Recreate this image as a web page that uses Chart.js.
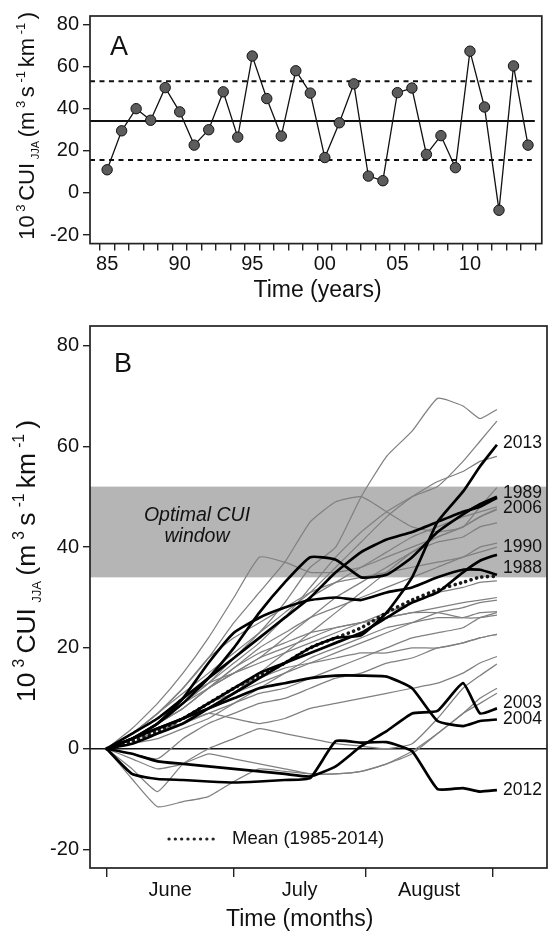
<!DOCTYPE html>
<html>
<head>
<meta charset="utf-8">
<script src="https://cdn.jsdelivr.net/npm/chart.js@4.4.0/dist/chart.umd.min.js"></script>
<style>
  html, body { margin: 0; padding: 0; background: #fff; }
  canvas { display: block; }
</style>
</head>
<body>
<canvas id="chartA" width="548" height="310"></canvas>
<canvas id="chartB" width="548" height="622"></canvas>
<script>
// ---- Panel A: summer CUI totals per year ----
const years = [1985, 1986, 1987, 1988, 1989, 1990, 1991, 1992, 1993, 1994,
               1995, 1996, 1997, 1998, 1999, 2000, 2001, 2002, 2003, 2004,
               2005, 2006, 2007, 2008, 2009, 2010, 2011, 2012, 2013, 2014];
const cuiTotals = [11, 29.5, 40, 34.5, 50, 38.5, 22.7, 30, 48, 26.5,
                   65, 44.8, 27, 58, 47.4, 16.8, 33.3, 51.8, 8, 5.8,
                   47.6, 49.8, 18.3, 27.2, 12, 67.3, 40.8, -8.2, 60.3, 22.7];
const cuiMean = 34.2;
const cuiUpper = 53;
const cuiLower = 15.6;
const yearLabelValues = [1985, 1990, 1995, 2000, 2005, 2010];
const yearTickLabels = ['85', '90', '95', '00', '05', '10'];
const cuiTicks = [-20, 0, 20, 40, 60, 80];

// ---- Panel B: cumulative CUI through the summer ----
const days = [0, 6, 12, 18, 24, 30, 36, 42, 48, 54, 60, 66, 72, 78, 84, 88, 92];
const monthTicks = [0, 30, 61, 91];
const monthLabelDays = [15, 45.5, 76];
const monthNames = ['June', 'July', 'August'];
const windowLow = 34;
const windowHigh = 52;

const cumMean = [0, 1.5, 3.5, 6, 9, 12, 14.5, 17, 20, 22, 24, 27, 29.5, 31.5, 33, 34, 34.2];

// highlighted years
const cum1988 = [0, 2, 5, 10, 17, 23, 26, 28, 29.5, 30, 29.5, 31, 32, 34, 35.5, 35.5, 34.5];
const cum1989 = [0, 2, 5, 9, 14, 20, 27, 33, 38, 37.5, 34, 34.5, 38, 43, 46.5, 48.5, 50];
const cum1990 = [0, 2, 4, 6, 9, 12, 15, 17, 19, 21, 23, 26, 29, 31, 35, 37.3, 38.5];
const cum2003 = [0, -1, -2.5, -3, -3.5, -4, -4.5, -5, -5.5, -3.5, 0.5, 3.5, 7, 7.5, 13, 7, 8];
const cum2004 = [0, 2, 4, 6, 8, 10, 12, 13, 14, 14.5, 14.5, 14.3, 12, 5.5, 4.5, 5.5, 5.8];
const cum2006 = [0, 3, 6, 10, 14, 18, 22, 26, 30, 35, 39, 41.5, 43, 45, 47, 48, 49.8];
const cum2012 = [0, -5, -6, -6.2, -6.5, -6.7, -6.5, -6.2, -5.8, 1.5, 1.2, 1.3, -0.5, -8, -7.8, -8.5, -8.2];
const cum2013 = [0, 1, 3, 5, 8, 11, 14, 17, 20, 22, 22.5, 27, 34, 45, 51, 56, 60.3];

// other years
const cum1985 = [0, -6, -11.5, -10.5, -9.5, -6.5, -4, -4.5, -5, -5, -4.5, -3, -0.5, 3, 7, 9, 11];
const cum1986 = [0, 1, 3, 6, 9, 11, 13, 15, 17, 19, 21, 23, 25, 27, 28, 29, 29.5];
const cum1987 = [0, 2, 5, 8, 12, 16, 20, 23, 26, 28, 30, 32, 34, 36, 38, 39, 40];
const cum1991 = [0, 1, 3, 6, 9, 12, 14, 16, 17, 18, 19, 19, 20, 20, 21, 22, 22.7];
const cum1992 = [0, 2, 5, 8, 12, 16, 19, 21, 23, 24, 25, 26, 27, 28, 29, 29.5, 30];
const cum1993 = [0, 3, 6, 10, 14, 18, 22, 26, 30, 33, 36, 39, 42, 44, 46, 47, 48];
const cum1994 = [0, 3, 6, 9, 12, 15, 18, 20, 22, 24, 25, 26, 27, 27, 26, 26, 26.5];
const cum1995 = [0, 2, 5, 9, 13, 17, 21, 26, 32, 38, 43, 47, 50, 52, 57, 61, 65];
const cum1996 = [0, 2, 5, 8, 12, 15, 18, 22, 26, 30, 33, 36, 39, 41, 42, 44, 44.8];
const cum1997 = [0, 2, 4, 5, 7, 9, 11, 12, 14, 16, 18, 20, 22, 23, 24, 26, 27];
const cum1998 = [0, 3, 7, 11, 15, 19, 23, 27, 31, 36, 41, 46, 50, 53, 55, 57, 58];
const cum1999 = [0, 4, 9, 15, 22, 30, 38, 37, 35, 35, 36, 38, 40, 42, 44, 46, 47.4];
const cum2000 = [0, -4, -8.5, -3, 0, 2, 4, 3, 2, 1, 0.5, 0, 1, 6, 12, 14.5, 16.8];
const cum2001 = [0, 3, 6, 10, 13, 15, 17, 19, 21, 23, 25, 27, 29, 31, 32, 33, 33.3];
const cum2002 = [0, 3, 7, 12, 18, 25, 31, 37, 45, 49, 50, 47, 44, 43, 44, 48, 51.8];
const cum2005 = [0, 1, 3, 5, 8, 11, 15, 19, 23, 27, 31, 35, 39, 42, 44, 46, 47.6];
const cum2007 = [0, 2, 3, 5, 7, 6, 5, 6, 8, 9, 10, 11, 12, 13, 15, 17, 18.3];
const cum2008 = [0, 1, 2, 4, 6, 9, 12, 15, 18, 20, 22, 24, 25, 26, 26, 27, 27.2];
const cum2009 = [0, -2, -4, -3, -1, -2, -3, -4, -5, -5, -4.5, -3, -1, 3, 7, 10, 12];
const cum2010 = [0, 2, 5, 9, 13, 18, 23, 29, 36, 40, 50, 58, 63, 69.5, 68, 65.5, 67.3];
const cum2011 = [0, 3, 7, 12, 18, 22, 25, 28, 31, 33, 34, 35, 36, 37, 38, 40, 40.8];
const cum2014 = [0, -1, -2, 2, 5, 7, 9, 10, 12, 14, 15, 17, 18, 20, 21, 22, 22.7];

const highlighted = [[1988, cum1988], [1989, cum1989], [1990, cum1990], [2003, cum2003],
                     [2004, cum2004], [2006, cum2006], [2012, cum2012], [2013, cum2013]];
const others = [[1985, cum1985], [1986, cum1986], [1987, cum1987], [1991, cum1991],
                [1992, cum1992], [1993, cum1993], [1994, cum1994], [1995, cum1995],
                [1996, cum1996], [1997, cum1997], [1998, cum1998], [1999, cum1999],
                [2000, cum2000], [2001, cum2001], [2002, cum2002], [2005, cum2005],
                [2007, cum2007], [2008, cum2008], [2009, cum2009], [2010, cum2010],
                [2011, cum2011], [2014, cum2014]];

// small vertical nudges so the year labels don't collide
const labelNudge = {2013: -2, 1989: -4, 2006: 10, 1990: -7, 1988: -7, 2003: -5, 2004: 0, 2012: 0};

const FONT = '"Liberation Sans", Arial, Helvetica, sans-serif';
const INK = '#111';
const toPoints = arr => days.map((d, i) => ({x: d, y: arr[i]}));

// y axis title with super/subscripts, rotated
function drawYTitle(ctx, baseX, centerY, length, k) {
  const parts = [
    {t: '10', s: 22, dy: 0}, {t: '3', s: 13, dy: -9}, {t: 'CUI', s: 22, dy: 0},
    {t: 'JJA', s: 11, dy: 5}, {t: '(m', s: 22, dy: 0}, {t: '3', s: 13, dy: -9},
    {t: 's', s: 22, dy: 0}, {t: '-1', s: 13, dy: -9}, {t: 'km', s: 22, dy: 0},
    {t: '-1', s: 13, dy: -9}, {t: ')', s: 22, dy: 0}
  ];
  ctx.save();
  let total = 0;
  parts.forEach(p => { ctx.font = (p.s * k) + 'px ' + FONT; p.w = ctx.measureText(p.t).width; total += p.w; });
  const gap = Math.max(0, (length - total) / (parts.length - 1));
  ctx.translate(baseX, centerY);
  ctx.rotate(-Math.PI / 2);
  ctx.fillStyle = INK;
  ctx.textBaseline = 'alphabetic';
  let x = -length / 2;
  parts.forEach(p => {
    ctx.font = (p.s * k) + 'px ' + FONT;
    ctx.fillText(p.t, x, p.dy * k);
    x += p.w + gap;
  });
  ctx.restore();
}

const framePlugin = {
  id: 'frame',
  afterDatasetsDraw(chart) {
    const a = chart.chartArea, ctx = chart.ctx;
    ctx.save();
    ctx.strokeStyle = '#222';
    ctx.lineWidth = 1.7;
    ctx.strokeRect(a.left, a.top, a.right - a.left, a.bottom - a.top);
    ctx.restore();
  }
};

// ---------------- Chart A ----------------
const refLinesA = {
  id: 'refLinesA',
  beforeDatasetsDraw(chart) {
    const a = chart.chartArea, ctx = chart.ctx, y = chart.scales.y;
    ctx.save();
    ctx.strokeStyle = '#111';
    ctx.lineWidth = 2;
    ctx.beginPath();
    ctx.moveTo(a.left, y.getPixelForValue(cuiMean));
    ctx.lineTo(a.right - 7, y.getPixelForValue(cuiMean));
    ctx.stroke();
    ctx.setLineDash([5, 4.5]);
    [cuiUpper, cuiLower].forEach(v => {
      ctx.beginPath();
      ctx.moveTo(a.left, y.getPixelForValue(v));
      ctx.lineTo(a.right - 10, y.getPixelForValue(v));
      ctx.stroke();
    });
    ctx.restore();
  },
  afterDraw(chart) {
    const ctx = chart.ctx, a = chart.chartArea, x = chart.scales.x;
    ctx.save();
    ctx.fillStyle = INK;
    ctx.font = '27px ' + FONT;
    ctx.textBaseline = 'alphabetic';
    ctx.fillText('A', 110, 55);
    ctx.font = '23px ' + FONT;
    ctx.textAlign = 'center';
    ctx.textBaseline = 'middle';
    ctx.fillText('Time (years)', (x.getPixelForValue(years[0]) + x.getPixelForValue(years[years.length - 1])) / 2, 291);
    ctx.restore();
    drawYTitle(ctx, 34, (a.top + a.bottom) / 2 - 4, 228, 1);
  }
};

new Chart(document.getElementById('chartA'), {
  type: 'line',
  data: {
    datasets: [{
      data: years.map((yr, i) => ({x: yr, y: cuiTotals[i]})),
      borderColor: '#111',
      borderWidth: 1.3,
      pointRadius: 5.2,
      pointBackgroundColor: '#5c5c5c',
      pointBorderColor: '#111',
      pointBorderWidth: 1,
      tension: 0
    }]
  },
  options: {
    responsive: false,
    animation: false,
    events: [],
    layout: {padding: {top: 14, right: 1, left: 0, bottom: 0}},
    plugins: {legend: {display: false}, tooltip: {enabled: false}},
    scales: {
      x: {
        type: 'linear',
        min: 1983.82,
        max: 2014.95,
        afterFit: s => { s.height = 66.4; },
        afterBuildTicks: s => {
          const marks = years.map(v => v - 0.5).concat([years[years.length - 1] + 0.5]);
          s.ticks = marks.concat(yearLabelValues).sort((p, q) => p - q).map(v => ({value: v}));
        },
        border: {display: false},
        grid: {
          drawOnChartArea: false,
          tickLength: 7,
          lineWidth: 1.4,
          color: c => (c.tick && yearLabelValues.includes(c.tick.value)) ? 'rgba(0,0,0,0)' : '#222'
        },
        ticks: {
          autoSkip: false,
          maxRotation: 0,
          padding: 2,
          color: INK,
          font: {family: FONT, size: 20},
          callback: v => { const i = yearLabelValues.indexOf(v); return i >= 0 ? yearTickLabels[i] : ''; }
        }
      },
      y: {
        type: 'linear',
        min: -24.05,
        max: 84,
        afterFit: s => { s.width = 90; },
        afterBuildTicks: s => { s.ticks = cuiTicks.map(v => ({value: v})); },
        border: {display: false},
        grid: {drawOnChartArea: false, tickLength: 7, lineWidth: 1.4, color: '#222'},
        ticks: {padding: 4, color: INK, font: {family: FONT, size: 20}, callback: v => String(v)}
      }
    }
  },
  plugins: [refLinesA, framePlugin]
});

// ---------------- Chart B ----------------
const decorB = {
  id: 'decorB',
  beforeDatasetsDraw(chart) {
    const a = chart.chartArea, ctx = chart.ctx, y = chart.scales.y;
    ctx.save();
    const top = y.getPixelForValue(windowHigh), bot = y.getPixelForValue(windowLow);
    ctx.fillStyle = '#b5b5b5';
    ctx.fillRect(a.left, top, a.right - a.left, bot - top);
    ctx.fillStyle = INK;
    ctx.font = 'italic 19.5px ' + FONT;
    ctx.textAlign = 'center';
    ctx.textBaseline = 'middle';
    ctx.fillText('Optimal CUI', 197, 206);
    ctx.fillText('window', 197, 227);
    ctx.strokeStyle = '#111';
    ctx.lineWidth = 1.5;
    ctx.beginPath();
    ctx.moveTo(a.left, y.getPixelForValue(0));
    ctx.lineTo(a.right, y.getPixelForValue(0));
    ctx.stroke();
    ctx.restore();
  },
  afterDraw(chart) {
    const ctx = chart.ctx, a = chart.chartArea, x = chart.scales.x, y = chart.scales.y;
    ctx.save();
    ctx.fillStyle = INK;
    ctx.font = '27px ' + FONT;
    ctx.textBaseline = 'alphabetic';
    ctx.fillText('B', 114, 62);
    // year labels at line ends
    ctx.font = '17.5px ' + FONT;
    ctx.textBaseline = 'middle';
    const endX = x.getPixelForValue(days[days.length - 1]) + 6;
    highlighted.forEach(([yr, arr]) => {
      ctx.fillText(String(yr), endX, y.getPixelForValue(arr[arr.length - 1]) + (labelNudge[yr] || 0));
    });
    // legend for the mean curve
    ctx.strokeStyle = '#222';
    ctx.lineWidth = 3.2;
    ctx.lineCap = 'round';
    ctx.setLineDash([0.1, 6.2]);
    ctx.beginPath();
    ctx.moveTo(169, 529);
    ctx.lineTo(215, 529);
    ctx.stroke();
    ctx.setLineDash([]);
    ctx.font = '18.5px ' + FONT;
    ctx.fillText('Mean (1985-2014)', 232, 529);
    // x axis title
    ctx.font = '23px ' + FONT;
    ctx.textAlign = 'center';
    ctx.fillText('Time (months)', (x.getPixelForValue(monthTicks[0]) + x.getPixelForValue(monthTicks[3])) / 2, 610);
    ctx.restore();
    drawYTitle(ctx, 35, 251, 282, 1.2);
  }
};

const datasetsB = [];
others.forEach(([yr, arr]) => datasetsB.push({
  label: String(yr), data: toPoints(arr), borderColor: '#808080', borderWidth: 1.25,
  pointRadius: 0, tension: 0.15, order: 2
}));
datasetsB.push({
  label: 'Mean (1985-2014)', data: toPoints(cumMean), borderColor: '#1a1a1a', borderWidth: 3.6,
  borderDash: [0.1, 5.5], borderCapStyle: 'round', pointRadius: 0, tension: 0.3, order: 1
});
highlighted.forEach(([yr, arr]) => datasetsB.push({
  label: String(yr), data: toPoints(arr), borderColor: '#000', borderWidth: 2.7,
  pointRadius: 0, tension: 0.15, order: 0
}));

new Chart(document.getElementById('chartB'), {
  type: 'line',
  data: {datasets: datasetsB},
  options: {
    responsive: false,
    animation: false,
    events: [],
    layout: {padding: {top: 15, right: 1, left: 0, bottom: 0}},
    plugins: {legend: {display: false}, tooltip: {enabled: false}},
    scales: {
      x: {
        type: 'linear',
        min: -3.91,
        max: 103.8,
        afterFit: s => { s.height = 64; },
        afterBuildTicks: s => {
          s.ticks = monthTicks.concat(monthLabelDays).sort((p, q) => p - q).map(v => ({value: v}));
        },
        border: {display: false},
        grid: {
          drawOnChartArea: false,
          tickLength: 9,
          lineWidth: 1.4,
          color: c => (c.tick && monthLabelDays.includes(c.tick.value)) ? 'rgba(0,0,0,0)' : '#222'
        },
        ticks: {
          autoSkip: false,
          maxRotation: 0,
          padding: 1,
          color: INK,
          font: {family: FONT, size: 20},
          callback: v => { const i = monthLabelDays.indexOf(v); return i >= 0 ? monthNames[i] : ''; }
        }
      },
      y: {
        type: 'linear',
        min: -23.66,
        max: 83.86,
        afterFit: s => { s.width = 90; },
        afterBuildTicks: s => { s.ticks = cuiTicks.map(v => ({value: v})); },
        border: {display: false},
        grid: {drawOnChartArea: false, tickLength: 7, lineWidth: 1.4, color: '#222'},
        ticks: {padding: 4, color: INK, font: {family: FONT, size: 20}, callback: v => String(v)}
      }
    }
  },
  plugins: [decorB, framePlugin]
});
</script>
</body>
</html>
